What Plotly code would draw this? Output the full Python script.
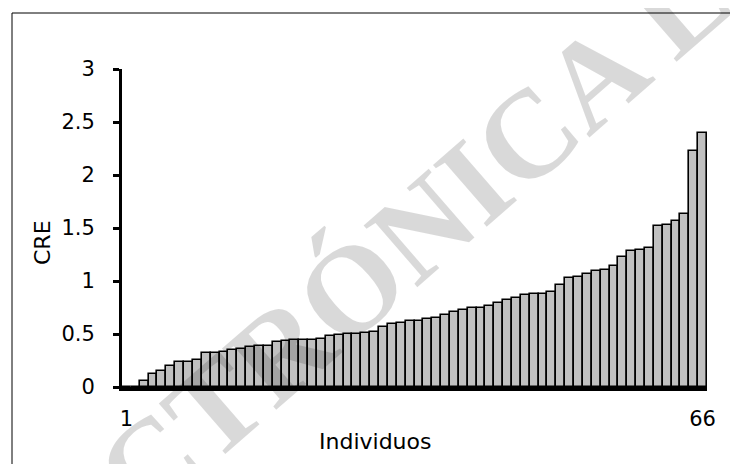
import plotly.graph_objects as go

individuos = list(range(1, 67))
cre = [0, 0, 0.06, 0.12, 0.155, 0.20, 0.24, 0.24, 0.255, 0.32,
       0.32, 0.333, 0.348, 0.358, 0.38, 0.389, 0.389, 0.42, 0.432, 0.441,
       0.441, 0.441, 0.457, 0.482, 0.489, 0.498, 0.503, 0.507, 0.52, 0.57,
       0.594, 0.605, 0.625, 0.627, 0.64, 0.65, 0.68, 0.706, 0.722, 0.746,
       0.75, 0.768, 0.797, 0.822, 0.844, 0.866, 0.879, 0.879, 0.895, 0.961,
       1.024, 1.04, 1.065, 1.096, 1.106, 1.137, 1.226, 1.279, 1.292, 1.308,
       1.519, 1.528, 1.57, 1.63, 2.224, 2.397]
x_tickvals = [1, 66]
x_ticktext = ["1", "66"]
y_tickvals = [0, 0.5, 1, 1.5, 2, 2.5, 3]
y_ticktext = ["0", "0.5", "1", "1.5", "2", "2.5", "3"]

OFF = 8  # page body margin
W, H = 738 - OFF, 464 - OFF
L, R, T, B = 122 - OFF, 31, 69 - OFF, 77
pw, ph = W - L - R, H - T - B

def px(xp):
    return (xp - OFF - L) / pw

def py(yp):
    return (H - B - (yp - OFF)) / ph

FONT = "DejaVu Sans"

fig = go.Figure(go.Bar(
    x=individuos, y=cre,
    marker=dict(color="#C0C0C0", line=dict(color="black", width=1.6)),
))

fig.update_layout(
    width=W, height=H,
    margin=dict(l=L, r=R, t=T, b=B, pad=0),
    paper_bgcolor="white", plot_bgcolor="white",
    bargap=0, showlegend=False,
    font=dict(family=FONT, size=21, color="black"),
    xaxis=dict(range=[0.5, 66.5], tickvals=x_tickvals, ticktext=x_ticktext,
               showline=True, linecolor="black", linewidth=4, ticks="",
               showgrid=False, zeroline=False, ticklabelstandoff=10,
               tickfont=dict(family=FONT, size=21)),
    yaxis=dict(range=[0, 3], tickvals=y_tickvals, ticktext=y_ticktext,
               showline=True, linecolor="black", linewidth=3, ticks="outside",
               ticklen=6, tickwidth=3, tickcolor="black",
               showgrid=False, zeroline=False, ticklabelstandoff=14,
               tickfont=dict(family=FONT, size=21)),
    annotations=[
        dict(text="CRE", xref="paper", yref="paper", x=px(42), y=py(242),
             textangle=-90, showarrow=False, xanchor="center", yanchor="middle",
             font=dict(family=FONT, size=22)),
        dict(text="Individuos", xref="paper", yref="paper", x=px(375), y=py(441),
             showarrow=False, xanchor="center", yanchor="middle",
             font=dict(family=FONT, size=22)),
        dict(text="<b>ELECTRÓNICA LE</b>", xref="paper", yref="paper",
             x=px(350), y=py(290),
             textangle=-41, showarrow=False, xanchor="center", yanchor="middle",
             font=dict(family="Liberation Serif", size=125, color="rgba(0,0,0,0.15)")),
    ],
    shapes=[
        dict(type="line", xref="paper", yref="paper", x0=px(12), x1=px(12),
             y0=py(13), y1=py(470), line=dict(color="black", width=1)),
        dict(type="line", xref="paper", yref="paper", x0=px(12), x1=px(745),
             y0=py(13), y1=py(13), line=dict(color="black", width=1)),
    ],
)

fig.write_html("out.html")
